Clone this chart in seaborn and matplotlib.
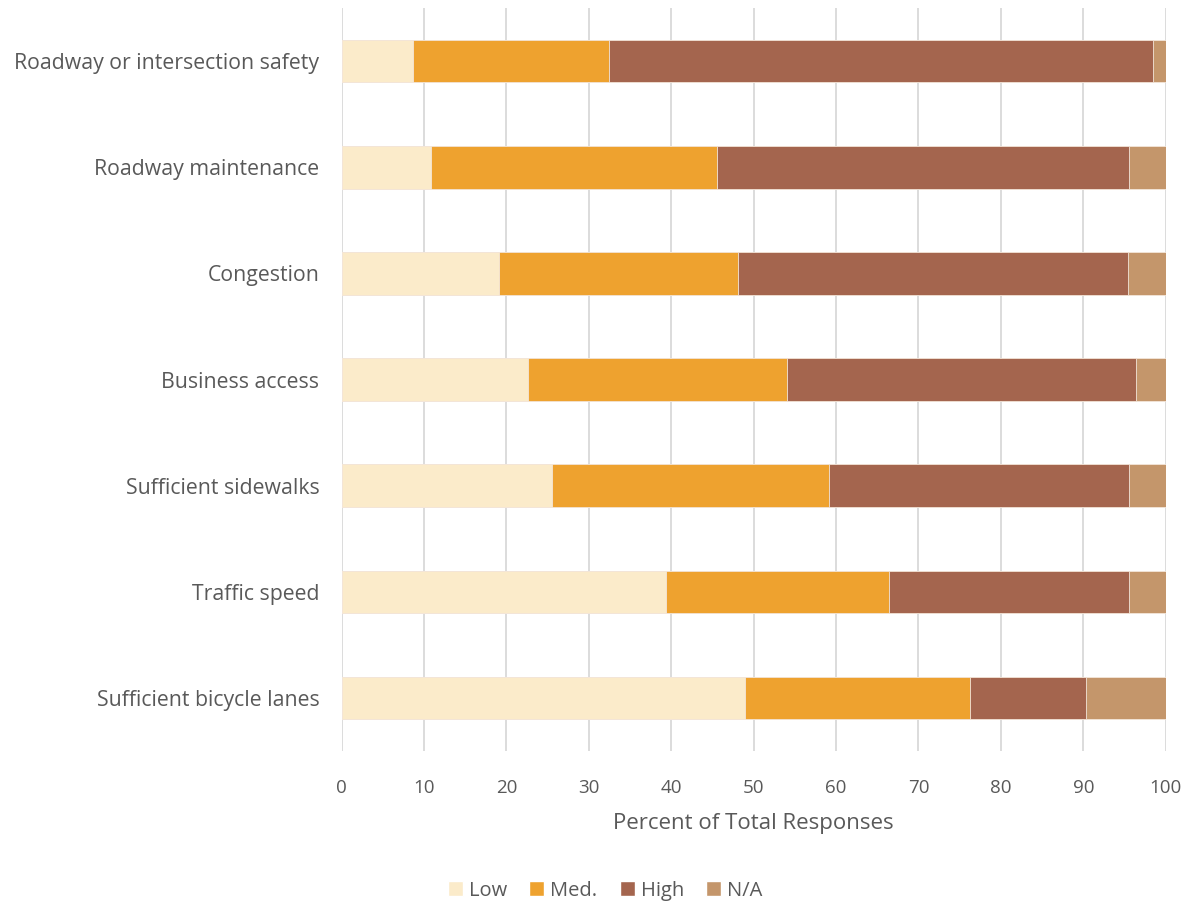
import pandas as pd
import matplotlib.pyplot as plt
import seaborn as sns
from matplotlib.patches import Patch

categorias = ['Roadway or intersection safety', 'Roadway maintenance', 'Congestion',
              'Business access', 'Sufficient sidewalks', 'Traffic speed',
              'Sufficient bicycle lanes']
low = [8.6, 10.8, 19.1, 22.6, 25.5, 39.3, 48.9]
med = [23.9, 34.8, 29.0, 31.4, 33.6, 27.1, 27.3]
high = [66.0, 50.0, 47.3, 42.4, 36.5, 29.2, 14.1]
na = [1.5, 4.4, 4.6, 3.6, 4.4, 4.4, 9.7]

series = ['Low', 'Med.', 'High', 'N/A']
cores = ['#FBEBCA', '#EEA22F', '#A4654E', '#C4966B']

df = pd.DataFrame({'cat': categorias, 'Low': low, 'Med.': med, 'High': high, 'N/A': na})
cum = df[series].cumsum(axis=1)
cum['cat'] = df['cat']

sns.set_style('white')
plt.rcParams['font.family'] = ['Open Sans', 'DejaVu Sans']

fig, ax = plt.subplots(figsize=(12.03, 9.07), dpi=100)
fig.subplots_adjust(left=0.284, right=0.969, top=0.991, bottom=0.172)

# barras empilhadas: desenha do acumulado maior para o menor
for s, c in reversed(list(zip(series, cores))):
    sns.barplot(data=cum, x=s, y='cat', orient='h', color=c, width=0.4,
                saturation=1, edgecolor='#F3E6DA', linewidth=0.6, ax=ax, zorder=3)

ax.set_xlim(0, 100)
ax.set_xticks(range(0, 101, 10))
ax.grid(axis='x', color='#D9D9D9', linewidth=1.3, zorder=0)
ax.set_axisbelow(True)
for sp in ax.spines.values():
    sp.set_visible(False)
ax.set_ylabel('')
ax.set_xlabel('Percent of Total Responses', fontsize=16, color='#595959', labelpad=12)
ax.tick_params(axis='x', labelsize=13.5, colors='#595959', length=0, pad=20)
ax.tick_params(axis='y', labelsize=15.3, colors='#595959', length=0, pad=16)

handles = [Patch(facecolor=c, label=s) for s, c in zip(series, cores)]
fig.legend(handles=handles, loc='center', bbox_to_anchor=(0.503, 0.018), ncol=4,
           frameon=False, fontsize=14.5, handlelength=0.75, handleheight=0.75,
           handletextpad=0.3, columnspacing=1.1, labelcolor='#595959')

plt.savefig('out.png', dpi=100)
